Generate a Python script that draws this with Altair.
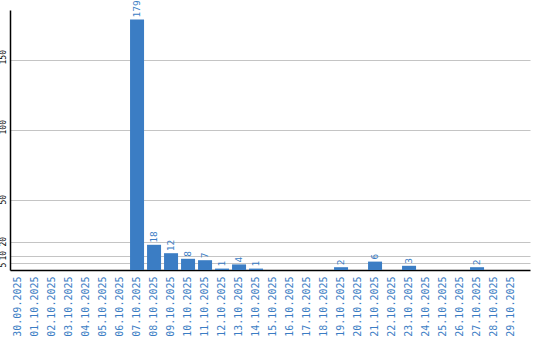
import altair as alt
import pandas as pd

dates = ["30.09.2025", "01.10.2025", "02.10.2025", "03.10.2025", "04.10.2025",
         "05.10.2025", "06.10.2025", "07.10.2025", "08.10.2025", "09.10.2025",
         "10.10.2025", "11.10.2025", "12.10.2025", "13.10.2025", "14.10.2025",
         "15.10.2025", "16.10.2025", "17.10.2025", "18.10.2025", "19.10.2025",
         "20.10.2025", "21.10.2025", "22.10.2025", "23.10.2025", "24.10.2025",
         "25.10.2025", "26.10.2025", "27.10.2025", "28.10.2025", "29.10.2025"]
values = [0, 0, 0, 0, 0, 0, 0, 179, 18, 12,
          8, 7, 1, 4, 1, 0, 0, 0, 0, 2,
          0, 6, 0, 3, 0, 0, 0, 2, 0, 0]
y_ticks = [5, 10, 20, 50, 100, 150]

df = pd.DataFrame({"date": dates, "value": values})
df["label"] = [str(v) if v > 0 else "" for v in values]

BLUE = "#3b7dc4"
FONT = "DejaVu Sans Mono"

xenc = alt.X("date:N", sort=dates,
             scale=alt.Scale(paddingInner=0.176, paddingOuter=0.382, align=0.08),
             axis=alt.Axis(title=None, labelAngle=270, labelAlign="right",
                           labelBaseline="middle", labelColor=BLUE, labelFont=FONT,
                           labelFontSize=10, labelPadding=6, ticks=False,
                           domainColor="#000000", domainWidth=1.5, grid=False,
                           labelOverlap=False))
yscale = alt.Scale(domain=[0, 185.7], nice=False)

bars = alt.Chart(df).mark_bar(color=BLUE).encode(
    x=xenc,
    y=alt.Y("value:Q", scale=yscale,
            axis=alt.Axis(title=None, values=y_ticks, labelAngle=270,
                          labelAlign="left", labelBaseline="bottom",
                          labelOffset=4,
                          labelFont=FONT, labelFontSize=8, labelColor="#000000",
                          labelPadding=2.5, ticks=False, domainColor="#000000",
                          domainWidth=1.5, gridColor="#c4c4c4", gridWidth=1.2,
                          labelOverlap=False, labelBound=False)),
)

text = alt.Chart(df).mark_text(angle=270, align="left", baseline="middle",
                               dx=2, font=FONT, fontSize=9.5, color=BLUE).encode(
    x=alt.X("date:N", sort=dates),
    y=alt.Y("value:Q", scale=yscale),
    text="label:N",
)

chart = (bars + text).properties(
    width=520, height=260,
    autosize=alt.AutoSizeParams(type="none"),
    padding={"left": 10, "top": 10, "right": 10, "bottom": 70},
).configure(background="#ffffff").configure_view(stroke=None)

chart.save("out.html", embed_options={"renderer": "svg", "actions": False})
